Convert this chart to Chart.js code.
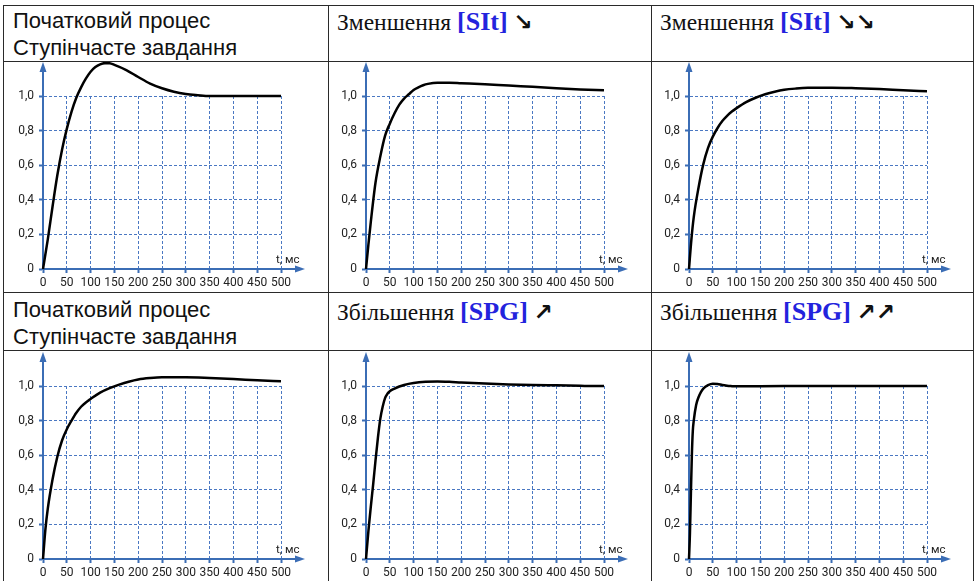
<!DOCTYPE html>
<html lang="uk">
<head>
<meta charset="utf-8">
<script src="https://cdn.jsdelivr.net/npm/chart.js@4.4.1/dist/chart.umd.min.js"></script>
<style>
body{margin:0;width:978px;height:581px;overflow:hidden;background:#fff;position:relative;}
.h{position:absolute;background:#2a2a2a;height:1px}
.v{position:absolute;background:#2a2a2a;width:1px}
.cell{position:absolute;white-space:nowrap;color:#111}
.sans{font-family:"Liberation Sans",Arial,sans-serif;font-size:22px;line-height:27px}
.serif{font-family:"Liberation Serif","Times New Roman",serif;font-size:23.5px;line-height:26px}
.key{color:#2323dd;font-weight:bold;font-size:26px}
.arr{font-family:"DejaVu Sans",sans-serif;font-weight:bold;font-size:23px}
canvas{position:absolute}
</style>
</head>
<body>
<!-- рамки таблиці -->
<div class="h" style="left:3px;top:5px;width:971px"></div>
<div class="h" style="left:3px;top:61px;width:971px"></div>
<div class="h" style="left:3px;top:292px;width:971px"></div>
<div class="h" style="left:3px;top:350px;width:971px"></div>
<div class="v" style="left:3px;top:5px;height:576px"></div>
<div class="v" style="left:328px;top:5px;height:576px"></div>
<div class="v" style="left:651px;top:5px;height:576px"></div>
<div class="v" style="left:973px;top:5px;height:576px"></div>

<div class="cell sans" style="left:13px;top:7px">Початковий процес<br>Ступінчасте завдання</div>
<div class="cell serif" style="left:337px;top:9px">Зменшення <span class="key">[SIt]</span> <span class="arr">↘</span></div>
<div class="cell serif" style="left:660px;top:9px">Зменшення <span class="key">[SIt]</span> <span class="arr">↘↘</span></div>
<div class="cell sans" style="left:13px;top:296px">Початковий процес<br>Ступінчасте завдання</div>
<div class="cell serif" style="left:337px;top:299px">Збільшення <span class="key">[SPG]</span> <span class="arr">↗</span></div>
<div class="cell serif" style="left:660px;top:299px">Збільшення <span class="key">[SPG]</span> <span class="arr">↗↗</span></div>

<canvas id="c1" width="322" height="229" style="left:5px;top:62px"></canvas>
<canvas id="c2" width="322" height="229" style="left:328px;top:62px"></canvas>
<canvas id="c3" width="322" height="229" style="left:651px;top:62px"></canvas>
<canvas id="c4" width="322" height="229" style="left:5px;top:352px"></canvas>
<canvas id="c5" width="322" height="229" style="left:328px;top:352px"></canvas>
<canvas id="c6" width="322" height="229" style="left:651px;top:352px"></canvas>

<script>
// час, мс і відгук для кожного графіка
const t1 = [0, 10, 20, 30, 40, 50, 60, 70, 80, 90, 100, 110, 120, 130, 140, 150, 175, 200, 225, 250, 275, 300, 325, 350, 400, 450, 500];
const y1 = [0, 0.17, 0.36, 0.54, 0.69, 0.81, 0.91, 0.99, 1.05, 1.10, 1.14, 1.167, 1.183, 1.19, 1.189, 1.18, 1.15, 1.11, 1.072, 1.045, 1.025, 1.012, 1.005, 1.0, 1.0, 1.0, 1.0];

const t2 = [0, 5, 10, 20, 30, 40, 50, 60, 70, 80, 90, 100, 110, 120, 130, 150, 175, 200, 250, 300, 350, 400, 450, 500];
const y2 = [0, 0.14, 0.27, 0.5, 0.65, 0.77, 0.84, 0.9, 0.95, 0.985, 1.01, 1.035, 1.05, 1.062, 1.07, 1.077, 1.077, 1.074, 1.068, 1.06, 1.053, 1.045, 1.038, 1.033];

const t3 = [0, 5, 10, 20, 30, 40, 50, 60, 70, 80, 90, 100, 120, 140, 160, 180, 200, 225, 250, 300, 350, 400, 450, 500];
const y3 = [0, 0.17, 0.3, 0.47, 0.605, 0.7, 0.765, 0.815, 0.855, 0.885, 0.91, 0.93, 0.965, 0.99, 1.01, 1.025, 1.036, 1.043, 1.047, 1.048, 1.045, 1.04, 1.033, 1.027];

const t4 = [0, 5, 10, 20, 30, 40, 50, 60, 70, 80, 90, 100, 120, 140, 160, 180, 200, 225, 250, 300, 350, 400, 450, 500];
const y4 = [0, 0.17, 0.29, 0.46, 0.59, 0.685, 0.75, 0.8, 0.845, 0.88, 0.905, 0.925, 0.962, 0.988, 1.008, 1.025, 1.038, 1.046, 1.05, 1.05, 1.046, 1.04, 1.033, 1.027];

const t5 = [0, 5, 10, 15, 20, 25, 30, 35, 40, 45, 50, 60, 70, 80, 100, 125, 150, 175, 200, 250, 300, 350, 400, 450, 500];
const y5 = [0, 0.16, 0.3, 0.43, 0.57, 0.7, 0.81, 0.88, 0.93, 0.955, 0.97, 0.985, 0.997, 1.006, 1.017, 1.024, 1.026, 1.024, 1.02, 1.014, 1.009, 1.006, 1.004, 1.002, 1.0];

const t6 = [0, 2, 4, 6, 8, 10, 15, 20, 25, 30, 40, 50, 60, 70, 80, 90, 100, 125, 150, 200, 300, 400, 500];
const y6 = [0, 0.15, 0.38, 0.6, 0.74, 0.8, 0.89, 0.935, 0.965, 0.985, 1.005, 1.013, 1.012, 1.006, 1.002, 0.999, 0.998, 0.998, 0.999, 1.0, 1.0, 1.0, 1.0];

// підписи осей
const xTicks = [0, 50, 100, 150, 200, 250, 300, 350, 400, 450, 500];
const yTicks = [0, 0.2, 0.4, 0.6, 0.8, 1.0];
const xUnit = 't, мс';

const AXIS = '#3b6db5';
const GRID = '#4a78c2';
const TICK_FONT = {family: '"Liberation Sans Narrow", "Roboto", sans-serif', size: 12};

// стрілки на осях і підпис t, мс
const arrowsPlugin = {
    id: 'arrows',
    beforeDatasetsDraw(chart) {
        const {ctx, chartArea: a, scales: {x, y}} = chart;
        const x0 = x.getPixelForValue(0);
        const y0 = y.getPixelForValue(0);
        const xe = a.right + 24;
        ctx.save();
        ctx.strokeStyle = AXIS;
        ctx.fillStyle = AXIS;
        ctx.lineWidth = 2;
        ctx.beginPath();
        ctx.moveTo(x0, y0 + 1);
        ctx.lineTo(x0, 8);
        ctx.moveTo(x0 - 1, y0);
        ctx.lineTo(xe - 8, y0);
        ctx.stroke();
        ctx.beginPath();
        ctx.moveTo(x0, 0);
        ctx.lineTo(x0 - 3.5, 10);
        ctx.lineTo(x0 + 3.5, 10);
        ctx.closePath();
        ctx.fill();
        ctx.beginPath();
        ctx.moveTo(xe, y0);
        ctx.lineTo(xe - 10, y0 - 3.5);
        ctx.lineTo(xe - 10, y0 + 3.5);
        ctx.closePath();
        ctx.fill();
        ctx.fillStyle = '#222';
        ctx.font = '11.5px ' + TICK_FONT.family;
        ctx.textAlign = 'left';
        ctx.fillText(xUnit, a.right - 5, y0 - 6);
        ctx.restore();
    }
};

function makeChart(id, ts, ys) {
    const ctx = document.getElementById(id).getContext('2d');
    return new Chart(ctx, {
        type: 'line',
        data: {
            datasets: [{
                data: ts.map((t, i) => ({x: t, y: ys[i]})),
                borderColor: '#000',
                borderWidth: 2.5,
                pointRadius: 0,
                cubicInterpolationMode: 'monotone',
                clip: false
            }]
        },
        options: {
            responsive: false,
            animation: false,
            devicePixelRatio: 1,
            layout: {padding: {left: 0, right: 46, top: 34, bottom: 0}},
            plugins: {legend: {display: false}, tooltip: {enabled: false}},
            scales: {
                x: {
                    type: 'linear',
                    min: 0,
                    max: 500,
                    afterBuildTicks: s => { s.ticks = xTicks.map(v => ({value: v})); },
                    afterFit: s => { s.height = 22; },
                    ticks: {color: '#222', font: TICK_FONT, padding: 3, maxRotation: 0, autoSkip: false},
                    grid: {
                        color: c => (c.tick && c.tick.value === 0) ? 'rgba(0,0,0,0)' : GRID,
                        lineWidth: 1,
                        tickColor: AXIS,
                        tickLength: 4,
                        tickWidth: 2
                    },
                    border: {display: true, color: AXIS, width: 2, dash: [3, 2]}
                },
                y: {
                    min: 0,
                    max: 1,
                    afterBuildTicks: s => { s.ticks = yTicks.map(v => ({value: v})); },
                    afterFit: s => { s.width = 38; },
                    ticks: {
                        color: '#222',
                        font: TICK_FONT,
                        padding: 5,
                        callback: v => v === 0 ? '0' : v.toFixed(1).replace('.', ',')
                    },
                    grid: {
                        color: c => (c.tick && c.tick.value === 0) ? 'rgba(0,0,0,0)' : GRID,
                        lineWidth: 1,
                        tickColor: AXIS,
                        tickLength: 4,
                        tickWidth: 2
                    },
                    border: {display: true, color: AXIS, width: 2, dash: [3, 2]}
                }
            }
        },
        plugins: [arrowsPlugin]
    });
}

makeChart('c1', t1, y1);
makeChart('c2', t2, y2);
makeChart('c3', t3, y3);
makeChart('c4', t4, y4);
makeChart('c5', t5, y5);
makeChart('c6', t6, y6);
</script>
</body>
</html>
